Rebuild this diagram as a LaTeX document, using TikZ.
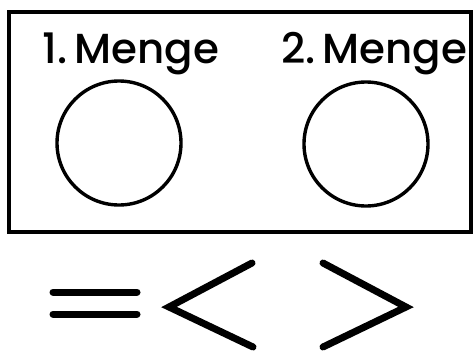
\documentclass[tikz,border=0pt]{standalone}
\usepackage{fontspec}
\setmainfont{Poppins}[UprightFont=* Medium]
\usetikzlibrary{positioning}

\tikzset{
  menge/.style={circle, draw, line width=3.4pt, minimum size=124pt, inner sep=0pt},
  titel/.style={font=\fontsize{42}{42}\selectfont, anchor=base, inner sep=0pt},
  zeichen/.style={line width=7pt, line cap=round, line join=miter}
}

\begin{document}
\begin{tikzpicture}[x=1pt, y=-1pt]
    \useasboundingbox (0,0) rectangle (476,351);
    \draw[line width=3.6pt] (9,12) rectangle (471,232);
    \node[titel] (t1) at (131,63) {1.\,Menge};
    \node[titel] (t2) at (374,63) {2.\,Menge};
    \node[menge] (m1) at (119,143) {};
    \node[menge] (m2) at (366,144) {};
    % Vergleichszeichen
    \draw[zeichen] (53,292) -- (137,292);
    \draw[zeichen] (53,314) -- (137,314);
    \draw[zeichen] (252,263) -- (169,307) -- (253,347);
    \draw[zeichen] (323,263) -- (406,307) -- (323,347);
  \end{tikzpicture}
\end{document}
